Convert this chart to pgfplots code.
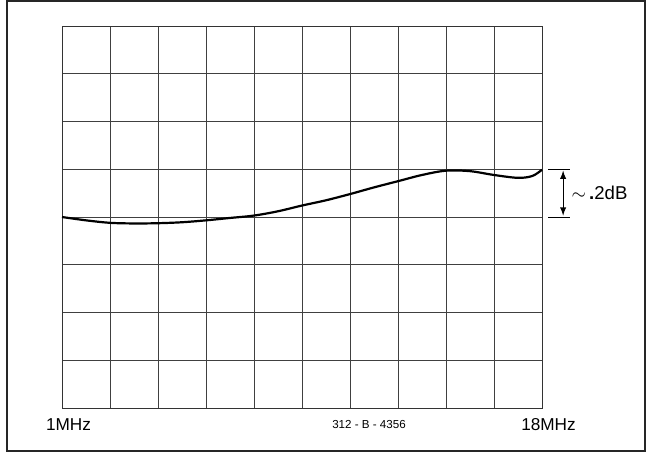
\documentclass[border=0pt]{standalone}
\usepackage{fontspec}
\setmainfont{Liberation Sans}
\usepackage{pgfplots}
\pgfplotsset{compat=1.18}
\begin{document}
\begin{tikzpicture}
\useasboundingbox (0pt,0pt) rectangle (323pt,226.5pt);
\draw[line width=1pt, black!85] (3.5pt,0.75pt) rectangle (322.5pt,225.75pt);
\begin{axis}[
  scale only axis,
  width=240pt, height=191pt,
  at={(31pt,22.5pt)}, anchor=south west,
  xmin=0, xmax=10, ymin=0, ymax=8,
  xtick={0,...,10}, ytick={0,...,8},
  xticklabels={}, yticklabels={},
  major tick length=0pt,
  grid=major,
  major grid style={line width=0.4pt, black!75},
  axis line style={line width=0.45pt, black!80},
  clip=false,
]
\addplot[black, line width=1.1pt, smooth, tension=0.55] coordinates {
(0,4.00) (0.5,3.93) (1,3.878) (1.5,3.865) (2,3.87) (2.5,3.89) (3,3.93)
(3.5,3.98) (4,4.03) (4.5,4.12) (5,4.24) (5.5,4.35) (6,4.48) (6.5,4.62)
(7,4.75) (7.5,4.88) (8,4.97) (8.5,4.96) (9,4.88) (9.5,4.82) (9.8,4.86) (10,4.99)
};
\draw[line width=0.45pt] (axis cs:10.13,5) -- (axis cs:10.58,5);
\draw[line width=0.45pt] (axis cs:10.13,4) -- (axis cs:10.58,4);
\draw[line width=0.45pt, -latex] (axis cs:10.44,4.5) -- (axis cs:10.44,4.97);
\draw[line width=0.45pt, -latex] (axis cs:10.44,4.5) -- (axis cs:10.44,4.03);
\node[font=\fontsize{9.3pt}{10pt}\selectfont, anchor=center] at (axis cs:11.2,4.5) {$\sim$\,{\bfseries.}2dB};
\end{axis}
\node[font=\fontsize{8.6pt}{9pt}\selectfont] at (34.25pt,14pt) {1MHz};
\node[font=\fontsize{8.6pt}{9pt}\selectfont] at (274.25pt,14pt) {18MHz};
\node[font=\fontsize{5.8pt}{7pt}\selectfont] at (184.5pt,14pt) {312 - B - 4356};
\end{tikzpicture}
\end{document}
